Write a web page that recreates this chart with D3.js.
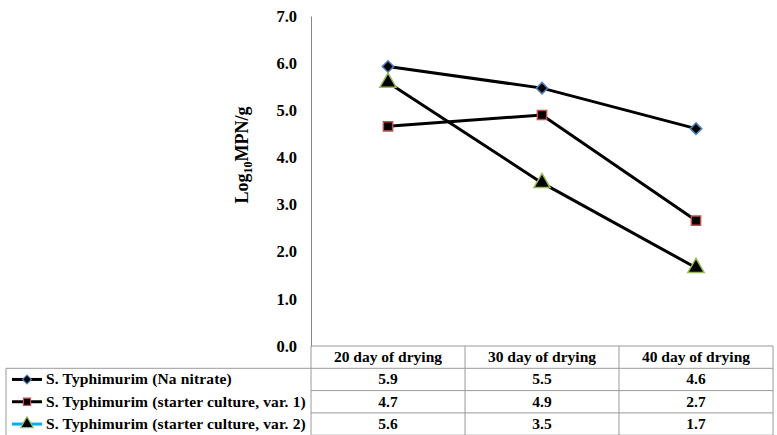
<!DOCTYPE html>
<html>
<head>
<meta charset="utf-8">
<script src="https://cdn.jsdelivr.net/npm/d3@7"></script>
<style>
  body { margin: 0; background: #fff; }
</style>
</head>
<body>
<svg id="chart" width="777" height="435"></svg>
<script>
// chart data
var categories = ["20 day of drying", "30 day of drying", "40 day of drying"];
var seriesNames = [
  "S. Typhimurim (Na nitrate)",
  "S. Typhimurim (starter culture, var. 1)",
  "S. Typhimurim (starter culture, var. 2)"
];
var naNitrate = [5.93, 5.47, 4.61];
var starterVar1 = [4.66, 4.90, 2.66];
var starterVar2 = [5.59, 3.46, 1.66];
var yTicks = [0, 1, 2, 3, 4, 5, 6, 7];

var FONT = "'Liberation Serif'";
var allSeries = [naNitrate, starterVar1, starterVar2];
var markers = [
  { type: d3.symbolSquare, size: 66, rot: 45, stroke: "#4f81bd" },
  { type: d3.symbolSquare, size: 85, rot: 0, stroke: "#c0504d" },
  { type: d3.symbolTriangle, size: 115, rot: 0, stroke: "#9bbb59" }
];
var legendLine = ["#000", "#000", "#00b0f0"];

var svg = d3.select("#chart");
var margin = { left: 311, right: 4, top: 16, bottom: 89 };
var width = 777, height = 435;

var x = d3.scaleBand().domain(categories).range([margin.left, width - margin.right]);
var y = d3.scaleLinear().domain([0, 7]).range([height - margin.bottom, margin.top]);

function txt(sel, size) {
  return sel.style("font-family", FONT).style("font-weight", "bold")
    .style("font-size", size + "px").attr("fill", "#000");
}

// y axis
var yAxis = d3.axisLeft(y).tickValues(yTicks).tickSize(0).tickPadding(14)
  .tickFormat(d3.format(".1f"));
var gy = svg.append("g").attr("transform", "translate(" + margin.left + ",0)").call(yAxis);
gy.select(".domain").attr("stroke", "#868686");
txt(gy.selectAll("text"), 16.5);

// y title
var title = txt(svg.append("text")
  .attr("transform", "translate(248,155) rotate(-90)")
  .attr("text-anchor", "middle"), 18);
title.append("tspan").text("Log");
title.append("tspan").style("font-size", "12px").attr("dy", 4).text("10");
title.append("tspan").attr("dy", -4).text("MPN/g");

// lines and markers
var cx = function (d, i) { return x(categories[i]) + x.bandwidth() / 2; };
var line = d3.line().x(cx).y(function (d) { return y(d); });

allSeries.forEach(function (s, k) {
  svg.append("path").datum(s)
    .attr("d", line)
    .attr("fill", "none")
    .attr("stroke", "#000")
    .attr("stroke-width", 3);
});
allSeries.forEach(function (s, k) {
  svg.selectAll(".m" + k).data(s).enter().append("path")
    .attr("class", "m" + k)
    .attr("d", d3.symbol().type(markers[k].type).size(markers[k].size))
    .attr("transform", function (d, i) {
      return "translate(" + cx(d, i) + "," + y(d) + ") rotate(" + markers[k].rot + ")";
    })
    .attr("fill", "#000")
    .attr("stroke", markers[k].stroke)
    .attr("stroke-width", 1.5);
});

// data table
var tableTop = y(0);
var rowH = 22.3;
var left = 6;
var right = width - margin.right;
var grid = "#9a9a9a";

svg.append("line").attr("x1", margin.left).attr("x2", right)
  .attr("y1", tableTop).attr("y2", tableTop).attr("stroke", grid);
for (var r = 1; r <= 4; r++) {
  svg.append("line").attr("x1", r === 1 ? left : margin.left).attr("x2", right)
    .attr("y1", tableTop + rowH * r).attr("y2", tableTop + rowH * r)
    .attr("stroke", grid);
}
svg.append("line").attr("x1", left).attr("x2", left)
  .attr("y1", tableTop + rowH).attr("y2", height).attr("stroke", grid);
categories.forEach(function (c, i) {
  svg.append("line").attr("x1", x(c)).attr("x2", x(c))
    .attr("y1", tableTop).attr("y2", height).attr("stroke", grid);
});
svg.append("line").attr("x1", right).attr("x2", right)
  .attr("y1", tableTop).attr("y2", height).attr("stroke", grid);

txt(svg.selectAll(".hdr").data(categories).enter().append("text")
  .attr("class", "hdr")
  .attr("x", function (d) { return x(d) + x.bandwidth() / 2; })
  .attr("y", tableTop + rowH / 2 + 5)
  .attr("text-anchor", "middle")
  .text(function (d) { return d; }), 15.5);

allSeries.forEach(function (s, k) {
  var ry = tableTop + rowH * (k + 1.5);
  svg.append("line").attr("x1", 12).attr("x2", 42).attr("y1", ry).attr("y2", ry)
    .attr("stroke", legendLine[k]).attr("stroke-width", 3);
  svg.append("path")
    .attr("d", d3.symbol().type(markers[k].type).size(markers[k].size * 0.6))
    .attr("transform", "translate(27," + ry + ") rotate(" + markers[k].rot + ")")
    .attr("fill", "#000").attr("stroke", markers[k].stroke).attr("stroke-width", 1.2);
  txt(svg.append("text").attr("x", 46).attr("y", ry + 5)
    .style("letter-spacing", "0.15px")
    .text(seriesNames[k]), 15.5);
  txt(svg.selectAll(".v" + k).data(s).enter().append("text")
    .attr("x", function (d, i) { return cx(d, i); })
    .attr("y", ry + 5)
    .attr("text-anchor", "middle")
    .text(function (d) { return d.toFixed(1); }), 15.5);
});
</script>
</body>
</html>
